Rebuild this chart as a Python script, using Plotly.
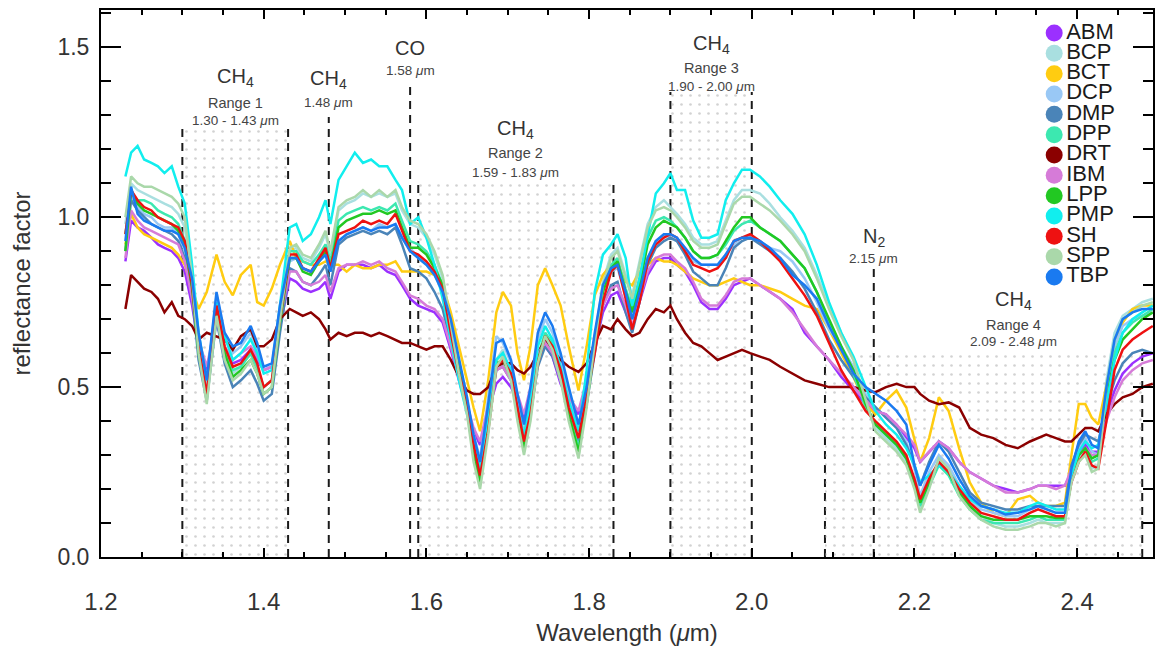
import plotly.graph_objects as go

# Wavelength grid (micrometres)
wavelength = [
    1.230, 1.237, 1.245, 1.253, 1.262, 1.270, 1.278, 1.287, 1.295, 1.303,
    1.312, 1.320, 1.330, 1.342, 1.352, 1.362, 1.372, 1.384, 1.392, 1.400, 1.410, 1.420,
    1.432, 1.440, 1.448, 1.458, 1.468, 1.476, 1.482, 1.492, 1.502, 1.512, 1.522, 1.532, 1.542,
    1.552, 1.562, 1.570, 1.580, 1.590, 1.600, 1.610, 1.620, 1.630, 1.640, 1.650, 1.658,
    1.666, 1.676, 1.686, 1.694, 1.704, 1.712, 1.720, 1.728, 1.737, 1.746, 1.755, 1.765, 1.775,
    1.787, 1.797, 1.807, 1.817, 1.827, 1.835, 1.845, 1.853, 1.862, 1.872, 1.882, 1.892,
    1.900, 1.908, 1.918, 1.928, 1.938, 1.948, 1.958, 1.968, 1.978, 1.988, 1.998, 2.010,
    2.022, 2.035, 2.050, 2.065, 2.080, 2.095,
    2.110, 2.125, 2.140, 2.152, 2.165, 2.178, 2.190, 2.200, 2.207, 2.218, 2.230, 2.242,
    2.255, 2.268, 2.282, 2.297, 2.312, 2.327, 2.342, 2.352, 2.362, 2.374, 2.385, 2.393,
    2.402, 2.410, 2.418, 2.426, 2.436, 2.446, 2.456, 2.468, 2.480, 2.493,
]

# Reflectance factor of each sample
ABM = [
    0.87, 0.99, 0.97, 0.96, 0.94, 0.92, 0.91, 0.90, 0.88, 0.84,
    0.74, 0.62, 0.55, 0.69, 0.61, 0.57, 0.58, 0.61, 0.58, 0.55, 0.56, 0.68,
    0.82, 0.81, 0.79, 0.78, 0.79, 0.81, 0.76, 0.84, 0.86, 0.86, 0.86, 0.85, 0.86, 0.84, 0.83, 0.80,
    0.76, 0.74, 0.73, 0.72, 0.69, 0.61, 0.52, 0.44, 0.37,
    0.33, 0.43, 0.51, 0.53, 0.50, 0.46, 0.41, 0.48, 0.58, 0.62, 0.59, 0.51, 0.46, 0.42, 0.51, 0.62,
    0.72, 0.77, 0.78, 0.72, 0.67, 0.75, 0.83, 0.87, 0.88,
    0.88, 0.86, 0.84, 0.80, 0.75, 0.73, 0.73, 0.76, 0.80, 0.81, 0.82, 0.80, 0.78, 0.76, 0.73, 0.66,
    0.62, 0.58,
    0.53, 0.49, 0.45, 0.43, 0.42, 0.39, 0.35, 0.32, 0.28, 0.31, 0.34, 0.32, 0.28, 0.25, 0.23, 0.21,
    0.20, 0.19, 0.20, 0.21, 0.21, 0.21, 0.21, 0.25, 0.30, 0.33, 0.31, 0.31, 0.42, 0.49, 0.54, 0.57,
    0.59, 0.60,
]
BCP = [
    0.98, 1.10, 1.08, 1.07, 1.06, 1.05, 1.04, 1.03, 1.01, 0.97,
    0.81, 0.61, 0.47, 0.72, 0.60, 0.54, 0.56, 0.60, 0.55, 0.50, 0.52, 0.71,
    0.90, 0.91, 0.88, 0.87, 0.91, 0.95, 0.89, 1.02, 1.04, 1.05, 1.07, 1.06, 1.07, 1.06, 1.07, 1.02,
    0.98, 0.97, 0.94, 0.89, 0.82, 0.68, 0.54, 0.43, 0.30,
    0.22, 0.38, 0.58, 0.61, 0.54, 0.42, 0.31, 0.41, 0.58, 0.66, 0.62, 0.53, 0.41, 0.30, 0.45, 0.64,
    0.81, 0.89, 0.91, 0.83, 0.77, 0.87, 0.98, 1.03, 1.05,
    1.03, 1.01, 0.98, 0.94, 0.92, 0.92, 0.93, 0.99, 1.05, 1.08, 1.08, 1.07, 1.04, 1.00, 0.96, 0.91,
    0.83, 0.74,
    0.66, 0.58, 0.45, 0.38, 0.35, 0.32, 0.28, 0.21, 0.14, 0.21, 0.29, 0.26, 0.19, 0.15, 0.12, 0.10,
    0.09, 0.09, 0.10, 0.11, 0.10, 0.10, 0.10, 0.23, 0.29, 0.31, 0.26, 0.27, 0.52, 0.66, 0.71, 0.73,
    0.75, 0.76,
]
BCT = [
    0.92, 1.01, 0.97, 0.95, 0.94, 0.93, 0.92, 0.91, 0.89, 0.86,
    0.79, 0.73, 0.78, 0.89, 0.81, 0.77, 0.83, 0.86, 0.75, 0.74, 0.79, 0.86,
    0.93, 0.88, 0.87, 0.86, 0.86, 0.87, 0.86, 0.86, 0.84, 0.86, 0.85, 0.85, 0.86, 0.86, 0.87, 0.84,
    0.84, 0.84, 0.84, 0.83, 0.80, 0.72, 0.62, 0.52, 0.44,
    0.37, 0.52, 0.72, 0.78, 0.74, 0.60, 0.52, 0.62, 0.80, 0.85, 0.80, 0.74, 0.62, 0.49, 0.62, 0.77,
    0.83, 0.86, 0.86, 0.81, 0.80, 0.84, 0.86, 0.88, 0.87,
    0.87, 0.86, 0.84, 0.82, 0.81, 0.80, 0.80, 0.81, 0.82, 0.81, 0.80, 0.80, 0.79, 0.78, 0.76, 0.74,
    0.73, 0.67,
    0.60, 0.53, 0.45, 0.42, 0.46, 0.49, 0.44, 0.35, 0.28, 0.35, 0.47, 0.43, 0.32, 0.22, 0.16, 0.13,
    0.12, 0.17, 0.18, 0.16, 0.15, 0.15, 0.16, 0.30, 0.45, 0.45, 0.41, 0.39, 0.50, 0.62, 0.69, 0.73,
    0.74, 0.74,
]
DCP = [
    0.95, 1.06, 1.03, 1.01, 1.00, 0.98, 0.97, 0.97, 0.95, 0.90,
    0.81, 0.65, 0.51, 0.77, 0.65, 0.60, 0.62, 0.66, 0.61, 0.55, 0.56, 0.73,
    0.87, 0.88, 0.85, 0.84, 0.87, 0.89, 0.84, 0.93, 0.95, 0.96, 0.97, 0.96, 0.98, 0.97, 0.98, 0.94,
    0.91, 0.88, 0.86, 0.83, 0.78, 0.69, 0.57, 0.46, 0.36,
    0.29, 0.47, 0.65, 0.63, 0.57, 0.47, 0.38, 0.48, 0.64, 0.70, 0.66, 0.58, 0.48, 0.38, 0.49, 0.65,
    0.79, 0.84, 0.85, 0.77, 0.70, 0.78, 0.88, 0.93, 0.95,
    0.94, 0.93, 0.90, 0.87, 0.86, 0.86, 0.86, 0.89, 0.92, 0.94, 0.94, 0.93, 0.91, 0.90, 0.87, 0.82,
    0.75, 0.67,
    0.62, 0.56, 0.48, 0.44, 0.41, 0.38, 0.34, 0.26, 0.18, 0.25, 0.30, 0.27, 0.21, 0.17, 0.14, 0.13,
    0.12, 0.12, 0.14, 0.15, 0.14, 0.13, 0.13, 0.25, 0.32, 0.35, 0.31, 0.30, 0.48, 0.62, 0.68, 0.70,
    0.71, 0.72,
]
DMP = [
    0.90, 1.05, 1.02, 1.00, 0.98, 0.97, 0.96, 0.95, 0.93, 0.88,
    0.77, 0.58, 0.46, 0.70, 0.57, 0.50, 0.52, 0.55, 0.51, 0.46, 0.48, 0.66,
    0.85, 0.84, 0.81, 0.80, 0.83, 0.86, 0.80, 0.92, 0.94, 0.95, 0.96, 0.95, 0.96, 0.95, 0.97, 0.92,
    0.85, 0.84, 0.82, 0.78, 0.73, 0.63, 0.53, 0.44, 0.34,
    0.27, 0.40, 0.55, 0.56, 0.52, 0.42, 0.33, 0.42, 0.56, 0.62, 0.59, 0.52, 0.43, 0.34, 0.45, 0.60,
    0.74, 0.80, 0.81, 0.72, 0.66, 0.75, 0.86, 0.91, 0.93,
    0.94, 0.93, 0.89, 0.84, 0.82, 0.80, 0.80, 0.85, 0.91, 0.93, 0.94, 0.92, 0.90, 0.88, 0.84, 0.79,
    0.72, 0.64,
    0.58, 0.53, 0.47, 0.44, 0.41, 0.38, 0.33, 0.27, 0.21, 0.28, 0.34, 0.31, 0.25, 0.19, 0.16, 0.15,
    0.14, 0.14, 0.15, 0.15, 0.15, 0.15, 0.15, 0.27, 0.33, 0.36, 0.35, 0.34, 0.44, 0.52, 0.57, 0.60,
    0.61, 0.60,
]
DPP = [
    0.95, 1.07, 1.05, 1.05, 1.04, 1.02, 1.01, 1.00, 0.98, 0.93,
    0.80, 0.61, 0.48, 0.73, 0.61, 0.55, 0.56, 0.60, 0.56, 0.50, 0.52, 0.70,
    0.90, 0.90, 0.87, 0.86, 0.89, 0.92, 0.87, 0.99, 1.01, 1.02, 1.03, 1.02, 1.03, 1.02, 1.04, 0.99,
    0.93, 0.92, 0.90, 0.86, 0.80, 0.67, 0.55, 0.45, 0.32,
    0.22, 0.39, 0.58, 0.60, 0.54, 0.43, 0.33, 0.43, 0.59, 0.66, 0.63, 0.55, 0.43, 0.32, 0.46, 0.63,
    0.79, 0.86, 0.88, 0.79, 0.73, 0.82, 0.94, 0.99, 1.00,
    0.99, 0.97, 0.94, 0.90, 0.88, 0.88, 0.89, 0.92, 0.96, 0.98, 0.99, 0.97, 0.95, 0.93, 0.89, 0.85,
    0.78, 0.69,
    0.62, 0.54, 0.44, 0.39, 0.36, 0.33, 0.29, 0.22, 0.15, 0.21, 0.27, 0.24, 0.18, 0.14, 0.11, 0.10,
    0.10, 0.10, 0.11, 0.12, 0.11, 0.11, 0.11, 0.23, 0.30, 0.32, 0.28, 0.29, 0.47, 0.60, 0.66, 0.69,
    0.71, 0.73,
]
DRT = [
    0.73, 0.83, 0.81, 0.79, 0.78, 0.76, 0.72, 0.75, 0.71, 0.70,
    0.68, 0.64, 0.66, 0.65, 0.64, 0.61, 0.65, 0.67, 0.62, 0.62, 0.64, 0.70,
    0.73, 0.72, 0.71, 0.72, 0.70, 0.67, 0.64, 0.66, 0.65, 0.66, 0.66, 0.65, 0.66, 0.65, 0.64, 0.63,
    0.63, 0.62, 0.61, 0.62, 0.62, 0.58, 0.53, 0.49, 0.48,
    0.48, 0.50, 0.56, 0.57, 0.57, 0.55, 0.54, 0.56, 0.60, 0.64, 0.61, 0.58, 0.56, 0.545, 0.57, 0.63,
    0.68, 0.67, 0.70, 0.67, 0.65, 0.66, 0.70, 0.73, 0.72,
    0.74, 0.70, 0.66, 0.63, 0.62, 0.60, 0.58, 0.59, 0.60, 0.61, 0.60, 0.59, 0.58, 0.56, 0.54, 0.52,
    0.51, 0.50,
    0.50, 0.50, 0.49, 0.485, 0.50, 0.51, 0.50, 0.50, 0.48, 0.46, 0.45, 0.455, 0.44, 0.38, 0.36, 0.35,
    0.33, 0.32, 0.34, 0.35, 0.36, 0.35, 0.34, 0.34, 0.36, 0.38, 0.38, 0.37, 0.42, 0.45, 0.47, 0.48,
    0.50, 0.51,
]
IBM = [
    0.88, 1.02, 0.99, 0.97, 0.96, 0.95, 0.94, 0.93, 0.92, 0.87,
    0.76, 0.64, 0.56, 0.70, 0.62, 0.58, 0.60, 0.62, 0.59, 0.55, 0.56, 0.70,
    0.84, 0.84, 0.81, 0.80, 0.81, 0.83, 0.78, 0.85, 0.86, 0.86, 0.87, 0.86, 0.87, 0.85, 0.84, 0.81,
    0.77, 0.76, 0.74, 0.73, 0.70, 0.62, 0.53, 0.45, 0.38,
    0.34, 0.45, 0.55, 0.56, 0.52, 0.48, 0.42, 0.50, 0.60, 0.63, 0.60, 0.52, 0.47, 0.43, 0.52, 0.64,
    0.74, 0.79, 0.80, 0.74, 0.68, 0.76, 0.84, 0.88, 0.89,
    0.89, 0.87, 0.85, 0.81, 0.76, 0.74, 0.74, 0.77, 0.81, 0.82, 0.82, 0.80, 0.78, 0.76, 0.72, 0.67,
    0.62, 0.58,
    0.54, 0.50, 0.46, 0.43, 0.42, 0.39, 0.36, 0.33, 0.28, 0.31, 0.34, 0.32, 0.28, 0.25, 0.23, 0.21,
    0.19, 0.19, 0.20, 0.21, 0.21, 0.20, 0.21, 0.26, 0.30, 0.32, 0.30, 0.30, 0.40, 0.47, 0.52, 0.55,
    0.57, 0.58,
]
LPP = [
    0.90, 1.08, 1.04, 1.02, 1.01, 1.00, 0.99, 0.98, 0.96, 0.92,
    0.79, 0.60, 0.47, 0.73, 0.60, 0.53, 0.55, 0.58, 0.54, 0.48, 0.50, 0.69,
    0.88, 0.88, 0.84, 0.83, 0.87, 0.90, 0.85, 0.97, 0.99, 1.00, 1.01, 1.01, 1.02, 1.01, 1.02, 0.97,
    0.91, 0.91, 0.89, 0.85, 0.80, 0.67, 0.55, 0.44, 0.31,
    0.22, 0.38, 0.57, 0.58, 0.53, 0.42, 0.32, 0.42, 0.58, 0.65, 0.62, 0.54, 0.42, 0.31, 0.45, 0.62,
    0.78, 0.85, 0.87, 0.78, 0.72, 0.80, 0.92, 0.97, 0.99,
    0.98, 0.97, 0.94, 0.90, 0.88, 0.88, 0.89, 0.93, 0.97, 1.00, 1.00, 0.97, 0.95, 0.93, 0.89, 0.85,
    0.78, 0.70,
    0.62, 0.55, 0.45, 0.39, 0.36, 0.33, 0.29, 0.22, 0.16, 0.22, 0.28, 0.25, 0.19, 0.15, 0.12, 0.11,
    0.11, 0.11, 0.12, 0.12, 0.12, 0.115, 0.115, 0.24, 0.30, 0.32, 0.29, 0.30, 0.48, 0.58, 0.64, 0.67,
    0.70, 0.72,
]
PMP = [
    1.12, 1.19, 1.21, 1.17, 1.16, 1.15, 1.13, 1.15, 1.09, 1.04,
    0.86, 0.66, 0.52, 0.75, 0.65, 0.58, 0.60, 0.64, 0.60, 0.54, 0.55, 0.74,
    0.97, 0.98, 0.93, 0.95, 1.00, 1.05, 0.98, 1.11, 1.15, 1.19, 1.16, 1.17, 1.15, 1.15, 1.11, 1.08,
    0.98, 1.00, 0.94, 0.86, 0.76, 0.64, 0.52, 0.42, 0.33,
    0.26, 0.42, 0.58, 0.60, 0.55, 0.44, 0.36, 0.46, 0.62, 0.68, 0.64, 0.56, 0.46, 0.37, 0.55, 0.78,
    0.89, 0.92, 0.95, 0.88, 0.74, 0.82, 0.94, 1.07, 1.10,
    1.13, 1.08, 1.08, 0.99, 0.94, 0.94, 0.95, 1.05, 1.10, 1.14, 1.14, 1.12, 1.09, 1.05, 1.01, 0.95,
    0.86, 0.75,
    0.66, 0.59, 0.50, 0.43, 0.39, 0.36, 0.32, 0.27, 0.22, 0.24, 0.27, 0.25, 0.21, 0.17, 0.15, 0.14,
    0.13, 0.13, 0.15, 0.16, 0.15, 0.14, 0.14, 0.24, 0.31, 0.34, 0.32, 0.33, 0.45, 0.58, 0.66, 0.70,
    0.72, 0.74,
]
SH = [
    0.95, 1.08, 1.05, 1.03, 1.02, 1.00, 0.99, 0.98, 0.97, 0.93,
    0.80, 0.62, 0.48, 0.74, 0.62, 0.56, 0.57, 0.61, 0.57, 0.50, 0.52, 0.70,
    0.89, 0.89, 0.85, 0.84, 0.88, 0.91, 0.85, 0.95, 0.96, 0.97, 0.99, 0.98, 0.99, 0.98, 1.01, 0.96,
    0.90, 0.89, 0.87, 0.84, 0.79, 0.66, 0.54, 0.46, 0.33,
    0.24, 0.37, 0.56, 0.58, 0.54, 0.44, 0.34, 0.42, 0.57, 0.65, 0.62, 0.55, 0.44, 0.35, 0.47, 0.60,
    0.75, 0.84, 0.86, 0.76, 0.67, 0.75, 0.87, 0.92, 0.94,
    0.95, 0.94, 0.90, 0.86, 0.85, 0.84, 0.85, 0.88, 0.93, 0.94, 0.95, 0.93, 0.90, 0.87, 0.82, 0.77,
    0.71, 0.63,
    0.55, 0.49, 0.43, 0.40, 0.37, 0.34, 0.30, 0.23, 0.17, 0.23, 0.28, 0.25, 0.20, 0.16, 0.13, 0.12,
    0.11, 0.11, 0.13, 0.14, 0.13, 0.12, 0.12, 0.22, 0.28, 0.31, 0.27, 0.26, 0.40, 0.55, 0.61, 0.64,
    0.66, 0.68,
]
SPP = [
    1.00, 1.12, 1.10, 1.09, 1.09, 1.08, 1.07, 1.06, 1.04, 1.00,
    0.82, 0.60, 0.45, 0.71, 0.58, 0.52, 0.54, 0.58, 0.54, 0.48, 0.50, 0.70,
    0.91, 0.92, 0.89, 0.88, 0.92, 0.96, 0.90, 1.03, 1.05, 1.06, 1.08, 1.06, 1.08, 1.06, 1.08, 1.03,
    0.99, 0.98, 0.95, 0.90, 0.83, 0.68, 0.54, 0.42, 0.28,
    0.20, 0.36, 0.56, 0.59, 0.52, 0.40, 0.30, 0.40, 0.57, 0.65, 0.61, 0.52, 0.40, 0.29, 0.44, 0.63,
    0.80, 0.88, 0.90, 0.82, 0.76, 0.86, 0.97, 1.02, 1.03,
    1.02, 1.00, 0.97, 0.93, 0.91, 0.91, 0.92, 0.98, 1.04, 1.06, 1.06, 1.04, 1.02, 0.99, 0.95, 0.90,
    0.82, 0.73,
    0.65, 0.58, 0.46, 0.37, 0.34, 0.31, 0.27, 0.20, 0.13, 0.20, 0.29, 0.26, 0.18, 0.14, 0.11, 0.09,
    0.08, 0.08, 0.09, 0.10, 0.10, 0.09, 0.10, 0.22, 0.28, 0.30, 0.25, 0.26, 0.50, 0.64, 0.70, 0.72,
    0.74, 0.75,
]
TBP = [
    0.93, 1.09, 1.01, 0.99, 0.98, 0.97, 0.96, 0.96, 0.95, 0.91,
    0.82, 0.66, 0.52, 0.78, 0.66, 0.62, 0.63, 0.68, 0.63, 0.56, 0.57, 0.74,
    0.88, 0.88, 0.85, 0.84, 0.87, 0.89, 0.84, 0.93, 0.95, 0.96, 0.97, 0.96, 0.97, 0.97, 0.98, 0.94,
    0.90, 0.88, 0.86, 0.83, 0.78, 0.70, 0.58, 0.47, 0.36,
    0.28, 0.45, 0.63, 0.64, 0.58, 0.48, 0.39, 0.50, 0.66, 0.72, 0.68, 0.60, 0.50, 0.39, 0.50, 0.66,
    0.80, 0.85, 0.86, 0.78, 0.70, 0.78, 0.88, 0.93, 0.95,
    0.95, 0.94, 0.91, 0.88, 0.86, 0.86, 0.86, 0.89, 0.93, 0.94, 0.94, 0.93, 0.91, 0.88, 0.83, 0.80,
    0.76, 0.68,
    0.61, 0.54, 0.50, 0.48, 0.46, 0.43, 0.39, 0.27, 0.21, 0.27, 0.33, 0.29, 0.23, 0.18, 0.15, 0.14,
    0.125, 0.13, 0.14, 0.15, 0.14, 0.13, 0.13, 0.26, 0.34, 0.37, 0.33, 0.32, 0.50, 0.64, 0.70, 0.72,
    0.73, 0.73,
]

sample_names = ["ABM", "BCP", "BCT", "DCP", "DMP", "DPP", "DRT", "IBM", "LPP", "PMP", "SH", "SPP", "TBP"]
sample_values = [ABM, BCP, BCT, DCP, DMP, DPP, DRT, IBM, LPP, PMP, SH, SPP, TBP]
sample_colors = ["#9b30ff", "#a9dfe0", "#ffcc11", "#99c8f5", "#4a84b8", "#3ce8b0", "#8b0000",
                 "#d67bd8", "#22c822", "#11eeee", "#ee1111", "#aad8aa", "#1a7af0"]

for name, vals in zip(sample_names, sample_values):
    if len(vals) != len(wavelength):
        raise ValueError(f"{name}: {len(vals)} values for {len(wavelength)} wavelengths")

# Absorption bands (shaded) and their boundary markers
band_start = [1.30, 1.59, 1.90, 2.09]
band_end = [1.43, 1.83, 2.00, 2.48]
band_top = [1.263, 1.107, 1.369, 0.603]

marker_pos = [1.30, 1.43, 1.48, 1.58, 1.59, 1.83, 1.90, 2.00, 2.09, 2.15, 2.48]
marker_top = [1.263, 1.263, 1.295, 1.395, 1.107, 1.107, 1.369, 1.369, 0.603, 0.85, 0.603]

# Band labels: (x, y of species, y of range name, y of range text, species, range name, range text)
band_labels = [
    (1.365, 1.410, 1.336, 1.286, "CH<sub>4</sub>", "Range 1", "1.30 - 1.43 <i>μ</i>m"),
    (1.480, 1.404, None, 1.339, "CH<sub>4</sub>", None, "1.48 <i>μ</i>m"),
    (1.580, 1.498, None, 1.433, "CO", None, "1.58 <i>μ</i>m"),
    (1.710, 1.257, 1.189, 1.133, "CH<sub>4</sub>", "Range 2", "1.59 - 1.83 <i>μ</i>m"),
    (1.950, 1.507, 1.439, 1.386, "CH<sub>4</sub>", "Range 3", "1.90 - 2.00 <i>μ</i>m"),
    (2.150, 0.939, None, 0.880, "N<sub>2</sub>", None, "2.15 <i>μ</i>m"),
    (2.322, 0.756, 0.683, 0.633, "CH<sub>4</sub>", "Range 4", "2.09 - 2.48 <i>μ</i>m"),
]

FONT = "Liberation Sans, Arial, sans-serif"
NARROW = "Liberation Sans Narrow, Liberation Sans, Arial, sans-serif"
W, H = 1155, 647
ML, MR, MT, MB = 101, 0, 10, 90

fig = go.Figure()

# dotted band fills
for x0, x1, top in zip(band_start, band_end, band_top):
    fig.add_trace(go.Scatter(
        x=[x0, x0, x1, x1, x0], y=[0, top, top, 0, 0],
        mode="lines", fill="toself", line=dict(width=0),
        fillcolor="rgba(255,255,255,0)",
        fillpattern=dict(shape=".", fgcolor="#a6a6a6", bgcolor="rgba(255,255,255,0)",
                         size=9, solidity=0.07),
        hoverinfo="skip", showlegend=False,
    ))

# dashed band boundaries
for xp, top in zip(marker_pos, marker_top):
    fig.add_shape(type="line", x0=xp, x1=xp, y0=0, y1=top, xref="x", yref="y",
                  line=dict(color="#1a1a1a", width=2, dash="8px,6px"), layer="below")

# spectra
for name, vals, col in zip(sample_names, sample_values, sample_colors):
    fig.add_trace(go.Scatter(x=wavelength, y=vals, mode="lines", name=name,
                             line=dict(color=col, width=2.5), showlegend=False))

# legend: coloured discs with sample codes (pixel-space overlay axes)
leg_x, leg_y0, leg_dy = 1056, 33, 20.33
leg_rows = [leg_y0 + i * leg_dy for i in range(len(sample_names))]
fig.add_trace(go.Scatter(x=[leg_x] * len(sample_names), y=leg_rows, mode="markers",
                         marker=dict(size=17, color=sample_colors, line=dict(width=0)),
                         xaxis="x2", yaxis="y2", hoverinfo="skip", showlegend=False))
fig.add_trace(go.Scatter(x=[leg_x + 12] * len(sample_names), y=leg_rows, mode="text",
                         text=sample_names, textposition="middle right",
                         textfont=dict(family=FONT, size=22, color="#1a1a1a"),
                         xaxis="x2", yaxis="y2", hoverinfo="skip", showlegend=False))

# band annotations
for x, ys, yr, yt, sp, rn, rt in band_labels:
    fig.add_annotation(x=x, y=ys, text=sp, showarrow=False, xref="x", yref="y",
                       font=dict(family=FONT, size=20, color="#333333"))
    if rn:
        fig.add_annotation(x=x, y=yr, text=rn, showarrow=False, xref="x", yref="y",
                           font=dict(family=FONT, size=14.5, color="#444444"))
    fig.add_annotation(x=x, y=yt, text=rt, showarrow=False, xref="x", yref="y",
                       font=dict(family=FONT, size=13.5, color="#444444"))

x_hi = 1.2 + (W - ML - MR) / 815.0

fig.update_layout(
    width=W, height=H,
    margin=dict(l=ML, r=MR, t=MT, b=MB, pad=0),
    paper_bgcolor="white", plot_bgcolor="white",
    showlegend=False,
    xaxis=dict(
        range=[1.2, x_hi], showline=True, linecolor="black", linewidth=2, mirror="ticks",
        ticks="inside", ticklen=9, tickwidth=2, tickcolor="black",
        tick0=1.2, dtick=0.2, tickformat=".1f",
        minor=dict(ticks="inside", ticklen=5, tickwidth=1.5, tickcolor="black", dtick=0.05, tick0=1.2),
        showgrid=False, zeroline=False,
        tickfont=dict(family=NARROW, size=24, color="#333333"),
        ticklabelstandoff=22,
        title=dict(text="Wavelength (<i>μ</i>m)", font=dict(family=FONT, size=24, color="#333333"),
                   standoff=10),
    ),
    yaxis=dict(
        range=[0, 1.61], showline=True, linecolor="black", linewidth=2, mirror="ticks",
        ticks="inside", ticklen=20, tickwidth=2, tickcolor="black",
        tick0=0, dtick=0.5, tickformat=".1f",
        minor=dict(ticks="inside", ticklen=10, tickwidth=2, tickcolor="black", dtick=0.1, tick0=0),
        showgrid=False, zeroline=False,
        tickfont=dict(family=FONT, size=23, color="#333333"),
        ticklabelstandoff=5,
        title=dict(text="reflectance factor", font=dict(family=FONT, size=24, color="#333333"),
                   standoff=20),
    ),
    xaxis2=dict(overlaying="x", range=[ML, W - MR], visible=False, fixedrange=True),
    yaxis2=dict(overlaying="y", range=[H - MB, MT], visible=False, fixedrange=True),
)

fig.write_html("out.html")
